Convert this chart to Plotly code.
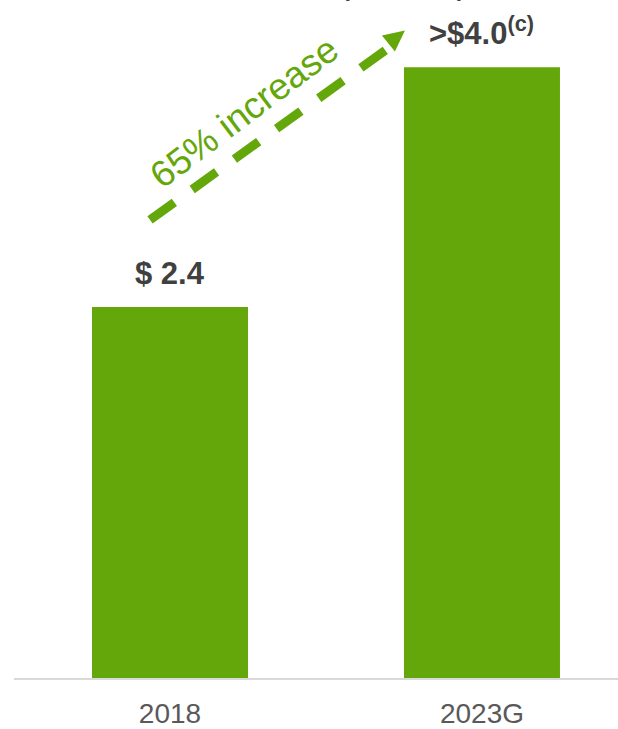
import plotly.graph_objects as go

categories = ["2018", "2023G"]
values = [2.43, 4.0]
value_labels = ["$ 2.4", ">$4.0<sup>(c)</sup>"]
growth_label = "65% increase"
header_text = "(in billions)"

GREEN = "#64A70B"
DARK = "#404040"
GRAY = "#595959"
FONT = "Liberation Sans Narrow, Arial Narrow, Liberation Sans, Arial"

fig = go.Figure()
fig.add_trace(go.Bar(
    x=list(range(len(categories))), y=values,
    marker=dict(color=GREEN, line=dict(width=0)),
    width=0.5, hoverinfo="skip",
))

# value labels above bars
for i, (v, t) in enumerate(zip(values, value_labels)):
    fig.add_annotation(
        x=i, y=v, xref="x", yref="y", text="<b>%s</b>" % t,
        showarrow=False, yanchor="bottom", yshift=14,
        font=dict(family=FONT, size=31, color=DARK),
    )

# dashed growth arrow (data coordinates relative to bars)
x0, y0 = -0.064, values[0] + 0.57
x1, y1 = 0.71, values[1] + 0.14
fig.add_shape(type="line", xref="x", yref="y", x0=x0, y0=y0, x1=x1, y1=y1,
              line=dict(color=GREEN, width=9, dash="30px,22px"))
fig.add_shape(type="path", xref="x", yref="y",
              xsizemode="pixel", ysizemode="pixel",
              xanchor=0.753, yanchor=values[1] + 0.24,
              path="M 0 0 L -23 -5 L -10 -21 Z",
              fillcolor=GREEN, line=dict(width=0))
fig.add_annotation(
    x=0.237, y=values[1] - 0.295, xref="x", yref="y", text=growth_label,
    showarrow=False, textangle=-37,
    font=dict(family=FONT, size=37, color=GREEN),
)

# partially visible header at the very top (cut off as in the reference)
fig.add_annotation(
    x=(403 - 14) / 604, xref="paper", y=1, yref="paper",
    text="<b>%s</b>" % header_text,
    showarrow=False, yanchor="bottom", yshift=-3,
    font=dict(family=FONT, size=23, color=DARK),
)

fig.update_layout(
    width=618, height=729,
    margin=dict(l=14, r=0, t=0, b=51, autoexpand=False),
    plot_bgcolor="white", paper_bgcolor="white",
    showlegend=False,
)
fig.update_xaxes(
    range=[-0.5, 1.436], showline=True, linecolor="#D9D9D9", linewidth=2,
    tickmode="array", tickvals=list(range(len(categories))), ticktext=categories,
    ticks="outside", ticklen=9, tickcolor="rgba(0,0,0,0)",
    tickfont=dict(family=FONT, size=28, color=GRAY),
    showgrid=False, zeroline=False, fixedrange=True, automargin=False,
)
fig.update_yaxes(range=[0, 4.44], visible=False, showgrid=False, zeroline=False)

fig.write_html("out.html")
